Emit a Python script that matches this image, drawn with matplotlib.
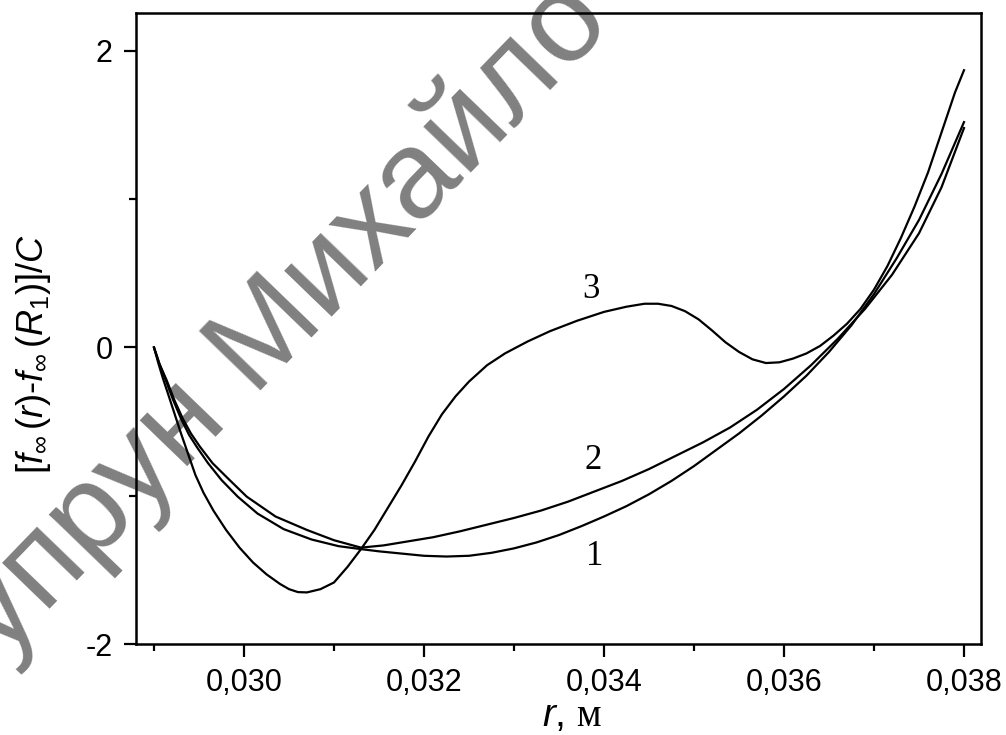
import matplotlib
matplotlib.use("Agg")
import matplotlib.pyplot as plt
from matplotlib.ticker import MultipleLocator, FixedLocator, FixedFormatter

# ---- data ----
x1 = [0.02900, 0.02906, 0.02913, 0.02921, 0.02930, 0.02939, 0.02948, 0.02960, 0.02975, 0.02993,
      0.03015, 0.03044, 0.03075, 0.03105, 0.03130, 0.03150, 0.03175, 0.03200, 0.03225, 0.03250,
      0.03275, 0.03300, 0.03325, 0.03350, 0.03375, 0.03400, 0.03425, 0.03450, 0.03475, 0.03500,
      0.03525, 0.03550, 0.03575, 0.03600, 0.03625, 0.03650, 0.03675, 0.03700, 0.03725, 0.03750,
      0.03775, 0.03800]
y1 = [0.000, -0.110, -0.220, -0.350, -0.480, -0.590, -0.675, -0.780, -0.894, -1.006,
      -1.120, -1.225, -1.295, -1.340, -1.360, -1.375, -1.390, -1.405, -1.410, -1.405,
      -1.385, -1.355, -1.315, -1.265, -1.205, -1.140, -1.070, -0.990, -0.900, -0.800,
      -0.690, -0.580, -0.460, -0.330, -0.190, -0.030, 0.150, 0.360, 0.600, 0.860,
      1.170, 1.520]

x2 = [0.02900, 0.02906, 0.02914, 0.02923, 0.02932, 0.02941, 0.02951, 0.02965, 0.02984, 0.03003,
      0.03035, 0.03070, 0.03100, 0.03130, 0.03155, 0.03180, 0.03210, 0.03240, 0.03270, 0.03300,
      0.03330, 0.03360, 0.03390, 0.03420, 0.03450, 0.03480, 0.03510, 0.03540, 0.03570, 0.03600,
      0.03630, 0.03660, 0.03690, 0.03720, 0.03750, 0.03775, 0.03800]
y2 = [0.000, -0.110, -0.220, -0.360, -0.480, -0.580, -0.669, -0.780, -0.894, -1.006,
      -1.140, -1.231, -1.300, -1.350, -1.335, -1.310, -1.280, -1.240, -1.195, -1.150,
      -1.100, -1.040, -0.970, -0.900, -0.820, -0.730, -0.640, -0.540, -0.420, -0.280,
      -0.120, 0.060, 0.260, 0.490, 0.770, 1.080, 1.480]

x3 = [0.02900, 0.02905, 0.02910, 0.02916, 0.02923, 0.02930, 0.02938, 0.02946, 0.02955, 0.02966,
      0.02980, 0.02995, 0.03010, 0.03025, 0.03040, 0.03050, 0.03060, 0.03070, 0.03085, 0.03100,
      0.03115, 0.03130, 0.03145, 0.03160, 0.03175, 0.03190, 0.03205, 0.03220, 0.03235, 0.03250,
      0.03270, 0.03290, 0.03315, 0.03340, 0.03370, 0.03400, 0.03425, 0.03445, 0.03460, 0.03475,
      0.03490, 0.03505, 0.03520, 0.03535, 0.03550, 0.03565, 0.03580, 0.03595, 0.03610, 0.03625,
      0.03640, 0.03655, 0.03670, 0.03685, 0.03700, 0.03715, 0.03730, 0.03745, 0.03760, 0.03775,
      0.03790, 0.03800]
y3 = [0.000, -0.110, -0.210, -0.320, -0.450, -0.580, -0.720, -0.860, -0.980, -1.100,
      -1.230, -1.350, -1.450, -1.530, -1.595, -1.630, -1.650, -1.652, -1.630, -1.585,
      -1.480, -1.360, -1.230, -1.080, -0.930, -0.770, -0.600, -0.450, -0.330, -0.230,
      -0.120, -0.040, 0.040, 0.110, 0.180, 0.240, 0.275, 0.295, 0.295, 0.280,
      0.245, 0.190, 0.115, 0.035, -0.030, -0.080, -0.105, -0.100, -0.075, -0.040,
      0.010, 0.080, 0.160, 0.260, 0.390, 0.550, 0.740, 0.950, 1.180, 1.450,
      1.720, 1.870]

curve_labels = ["1", "2", "3"]
label_x = [0.03390, 0.03388, 0.03385]
label_y = [-1.41, -0.76, 0.39]

xticks = [0.030, 0.032, 0.034, 0.036, 0.038]
xtick_labels = ["0,030", "0,032", "0,034", "0,036", "0,038"]
yticks = [-2, 0, 2]
ytick_labels = ["-2", "0", "2"]

# ---- style ----
plt.rcParams['mathtext.fontset'] = 'custom'
plt.rcParams['mathtext.rm'] = 'Liberation Sans'
plt.rcParams['mathtext.it'] = 'Liberation Sans:italic'
plt.rcParams['mathtext.sf'] = 'Liberation Sans'
plt.rcParams['mathtext.cal'] = 'Liberation Serif'

fig = plt.figure(figsize=(10.06, 7.35), dpi=100)
W, H = 1006, 735
ax = fig.add_axes([136 / W, (H - 644) / H, 845 / W, 631 / H])
ax.set_facecolor('none')

# watermark (behind everything)
fig.text(614 / W, (H - 25) / H, "Купрун Михайло", rotation=46, rotation_mode='anchor',
         ha='right', va='baseline', fontsize=90, color='#808080',
         family='Liberation Sans', zorder=-5)

for xs, ys in ((x1, y1), (x2, y2), (x3, y3)):
    ax.plot(xs, ys, color='black', lw=1.6, solid_joinstyle='round')

for t, lx, ly in zip(curve_labels, label_x, label_y):
    ax.text(lx, ly, t, ha='center', va='center', fontsize=25,
            family='Liberation Serif')

ax.set_xlim(0.02880, 0.038189)
ax.set_ylim(-2.0, 2.256)

ax.xaxis.set_major_locator(FixedLocator(xticks))
ax.xaxis.set_major_formatter(FixedFormatter(xtick_labels))
ax.xaxis.set_minor_locator(MultipleLocator(0.001))
ax.yaxis.set_major_locator(FixedLocator(yticks))
ax.yaxis.set_major_formatter(FixedFormatter(ytick_labels))
ax.yaxis.set_minor_locator(MultipleLocator(1))

ax.tick_params(which='major', direction='out', length=9, width=1.6, pad=8)
ax.tick_params(which='minor', direction='out', length=5, width=1.6)
ax.tick_params(top=False, right=False, which='both')
for lab in ax.get_xticklabels() + ax.get_yticklabels():
    lab.set_family('Liberation Sans')
    lab.set_fontsize(22)
for s in ax.spines.values():
    s.set_linewidth(1.8)

ylab = ax.set_ylabel(r'[$f_{\infty}\,$($r$)-$f_{\infty}\,$($R_1$)]/$C$',
                     fontsize=26, family='Liberation Sans')
ax.yaxis.set_label_coords(-0.098, 0.46)

fig.text(572 / W, (H - 726) / H, r'$r$, $\mathcal{м}$', fontsize=28,
         family='Liberation Sans', ha='center', va='baseline')

fig.savefig('out.png', dpi=100)
